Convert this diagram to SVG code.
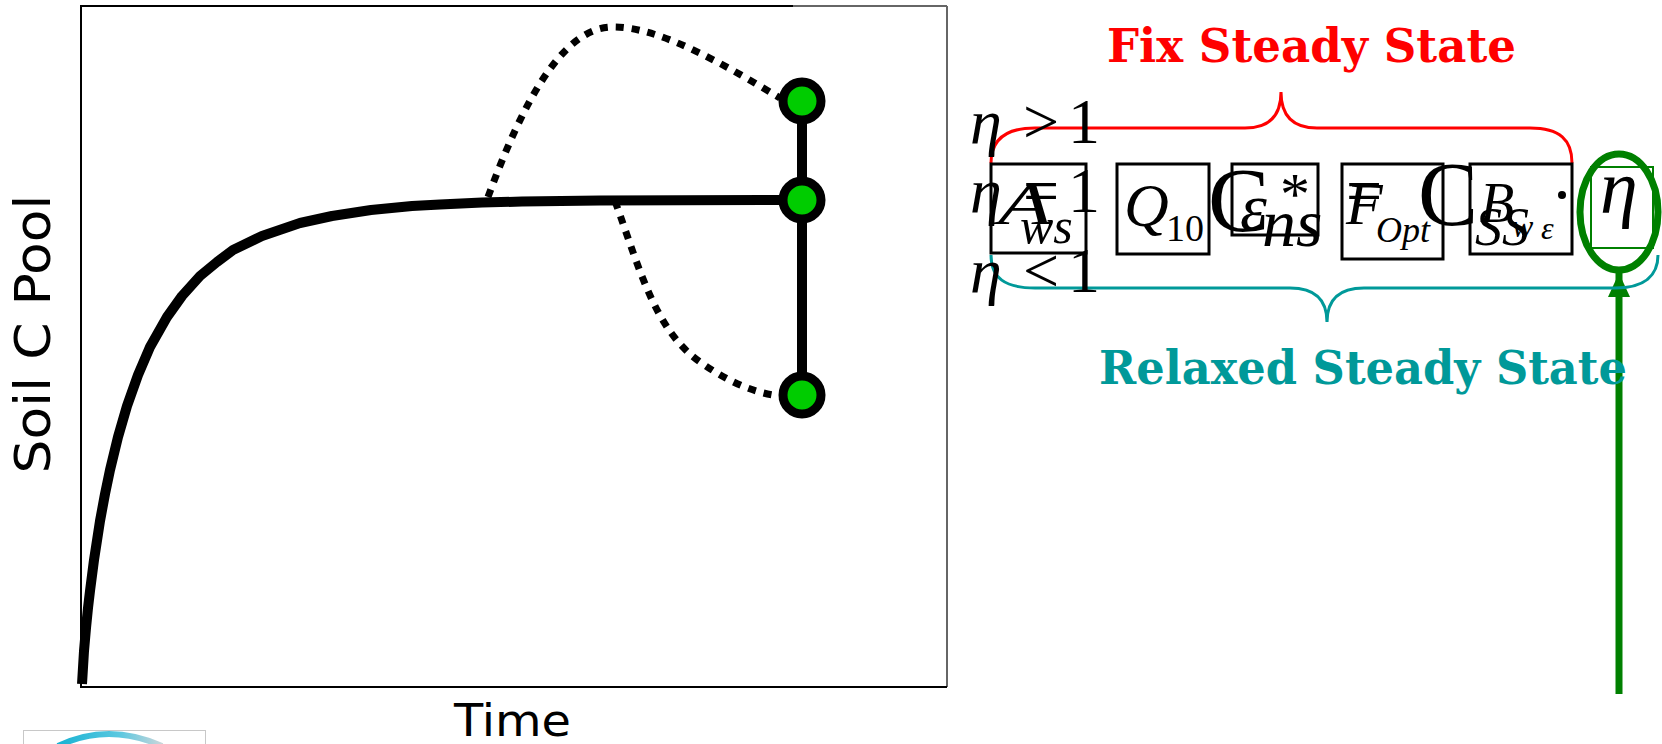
<svg xmlns="http://www.w3.org/2000/svg" width="1662" height="744" viewBox="0 0 1662 744">
<defs>
<style>
.m{font-family:"Liberation Serif","Times New Roman",serif;fill:#000}
.i{font-style:italic}
.box{fill:none;stroke:#000;stroke-width:3}
.dot{fill:none;stroke:#000;stroke-width:7;stroke-dasharray:8 8}
.node{fill:#00cc00;stroke:#000;stroke-width:9}
.lbl{font-family:"DejaVu Sans",Verdana,sans-serif;fill:#000}
.ttl{font-family:"DejaVu Serif","Liberation Serif",serif;font-weight:bold}
</style>
<linearGradient id="lg" x1="0" y1="0" x2="1" y2="0">
<stop offset="0" stop-color="#19b3d3"/>
<stop offset="0.6" stop-color="#5cc8e0"/>
<stop offset="1" stop-color="#c9d6da"/>
</linearGradient>
<marker id="ah" viewBox="0 0 24 22" refX="24" refY="11" markerWidth="24" markerHeight="22" markerUnits="userSpaceOnUse" orient="auto">
<path d="M0,0 L24,11 L0,22 z" fill="#008000"/>
</marker>
</defs>
<rect width="1662" height="744" fill="#fff"/>

<g id="plot">
<line x1="81" y1="6" x2="793" y2="6" stroke="#000" stroke-width="2"/>
<line x1="793" y1="6" x2="947" y2="6" stroke="#666" stroke-width="2"/>
<line x1="947" y1="6" x2="947" y2="687" stroke="#666" stroke-width="2"/>
<line x1="81" y1="5" x2="81" y2="688" stroke="#000" stroke-width="2"/>
<line x1="80" y1="687" x2="947" y2="687" stroke="#000" stroke-width="2"/>
<text class="lbl" font-size="50" text-anchor="middle" textLength="279" lengthAdjust="spacingAndGlyphs" transform="translate(50,334) rotate(-90)">Soil C Pool</text>
<text class="lbl" x="454" y="736" font-size="45" textLength="117" lengthAdjust="spacingAndGlyphs">Time</text>
</g>

<g id="connectors">
<polyline points="82,684 84,651 86,628 88,608 90,591 94,560 100,521 105,494 110,470 118,437 127,406 138,375 150,347 167,317 182,296 200,276 217,262 233,250 262,236 300,223 332,216 371,210 412,206 440,204.5 482,202.6 522,201.5 600,200.5 802,200" fill="none" stroke="#000" stroke-width="10" stroke-linejoin="round"/>
<path class="dot" d="M488,197 C520,110 560,28 612,27 C660,26 730,68 780,98"/>
<path class="dot" d="M615,201 C640,270 655,330 700,362 C730,383 755,393 780,396"/>
<line x1="802" y1="101" x2="802" y2="395" stroke="#000" stroke-width="10"/>
<line x1="1619" y1="694" x2="1619" y2="273" stroke="#008000" stroke-width="7" marker-end="url(#ah)"/>
</g>

<g id="node-top"><circle class="node" cx="802" cy="101" r="19"/></g>
<g id="node-mid"><circle class="node" cx="802" cy="200" r="19"/></g>
<g id="node-bot"><circle class="node" cx="802" cy="395" r="19"/></g>

<g id="fix-brace">
<path d="M991,163 C991,140 1005,128 1035,128 L1245,128 C1270,128 1281,115 1281,92 C1281,115 1292,128 1317,128 L1530,128 C1560,128 1572,140 1572,163" fill="none" stroke="#ff0000" stroke-width="3"/>
<text class="ttl" x="1107" y="62" font-size="47" fill="#ff0000" textLength="409" lengthAdjust="spacingAndGlyphs">Fix Steady State</text>
</g>

<g id="relaxed-brace">
<path d="M991,255 C991,278 1005,288 1035,288 L1290,288 C1315,288 1327,300 1327,322 C1327,300 1339,288 1364,288 L1615,288 C1645,288 1658,275 1658,255" fill="none" stroke="#009999" stroke-width="3"/>
<text class="ttl" x="1099" y="384" font-size="46" fill="#009999" textLength="528" lengthAdjust="spacingAndGlyphs">Relaxed Steady State</text>
</g>

<g id="eta-rows">
<text class="m" font-size="64" y="143"><tspan class="i" x="970">η</tspan><tspan x="1023">&gt;</tspan><tspan x="1068">1</tspan></text>
<text class="m" font-size="64" y="212"><tspan class="i" x="970">η</tspan><tspan x="1023">=</tspan><tspan x="1068">1</tspan></text>
<text class="m" font-size="64" y="292"><tspan class="i" x="970">η</tspan><tspan x="1023">&lt;</tspan><tspan x="1068">1</tspan></text>
</g>

<g id="box-aws">
<rect class="box" x="991" y="164" width="95" height="89"/>
<text class="m i" x="998" y="224" font-size="60" textLength="54" lengthAdjust="spacingAndGlyphs">A</text>
<text class="m i" x="1020" y="243" font-size="50">ws</text>
</g>

<g id="box-q10">
<rect class="box" x="1117" y="164" width="92" height="90"/>
<text class="m i" x="1124" y="226" font-size="62">Q</text>
<text class="m" x="1166" y="241" font-size="38">10</text>
</g>

<g id="box-eps">
<rect class="box" x="1232" y="164" width="86" height="71"/>
<text class="m" x="1208" y="231" font-size="92">C</text>
<text class="m i" x="1240" y="230" font-size="68">ε</text>
<text class="m" x="1280" y="214" font-size="60">*</text>
<text class="m i" x="1262" y="246" font-size="68">ns</text>
</g>

<g id="box-fopt">
<rect class="box" x="1342" y="164" width="101" height="95"/>
<text class="m i" x="1346" y="224" font-size="60">F</text>
<text class="m" x="1346" y="212" font-size="64">=</text>
<text class="m i" x="1376" y="242" font-size="36">Opt</text>
<text class="m" x="1418" y="225" font-size="90">C</text>
</g>

<g id="box-bss">
<rect class="box" x="1470" y="164" width="102" height="90"/>
<text class="m i" x="1480" y="222" font-size="56">B</text>
<text class="m i" x="1475" y="245" font-size="54">SS</text>
<text class="m i" x="1512" y="237" font-size="32">w</text>
<text class="m i" x="1541" y="239" font-size="32">ε</text>
<circle cx="1562" cy="195" r="4" fill="#000"/>
</g>

<g id="box-eta">
<rect x="1591" y="167" width="62" height="81" fill="none" stroke="#008000" stroke-width="2"/>
<text class="m i" x="1600" y="213" font-size="76">η</text>
<ellipse cx="1619" cy="212" rx="39" ry="58" fill="none" stroke="#008000" stroke-width="7"/>
</g>

<g id="logo">
<rect x="23.5" y="730.5" width="182" height="30" fill="none" stroke="#c8c8c8" stroke-width="1"/>
<path d="M58,746 Q108,722 162,746" fill="none" stroke="url(#lg)" stroke-width="6"/>
</g>
</svg>
